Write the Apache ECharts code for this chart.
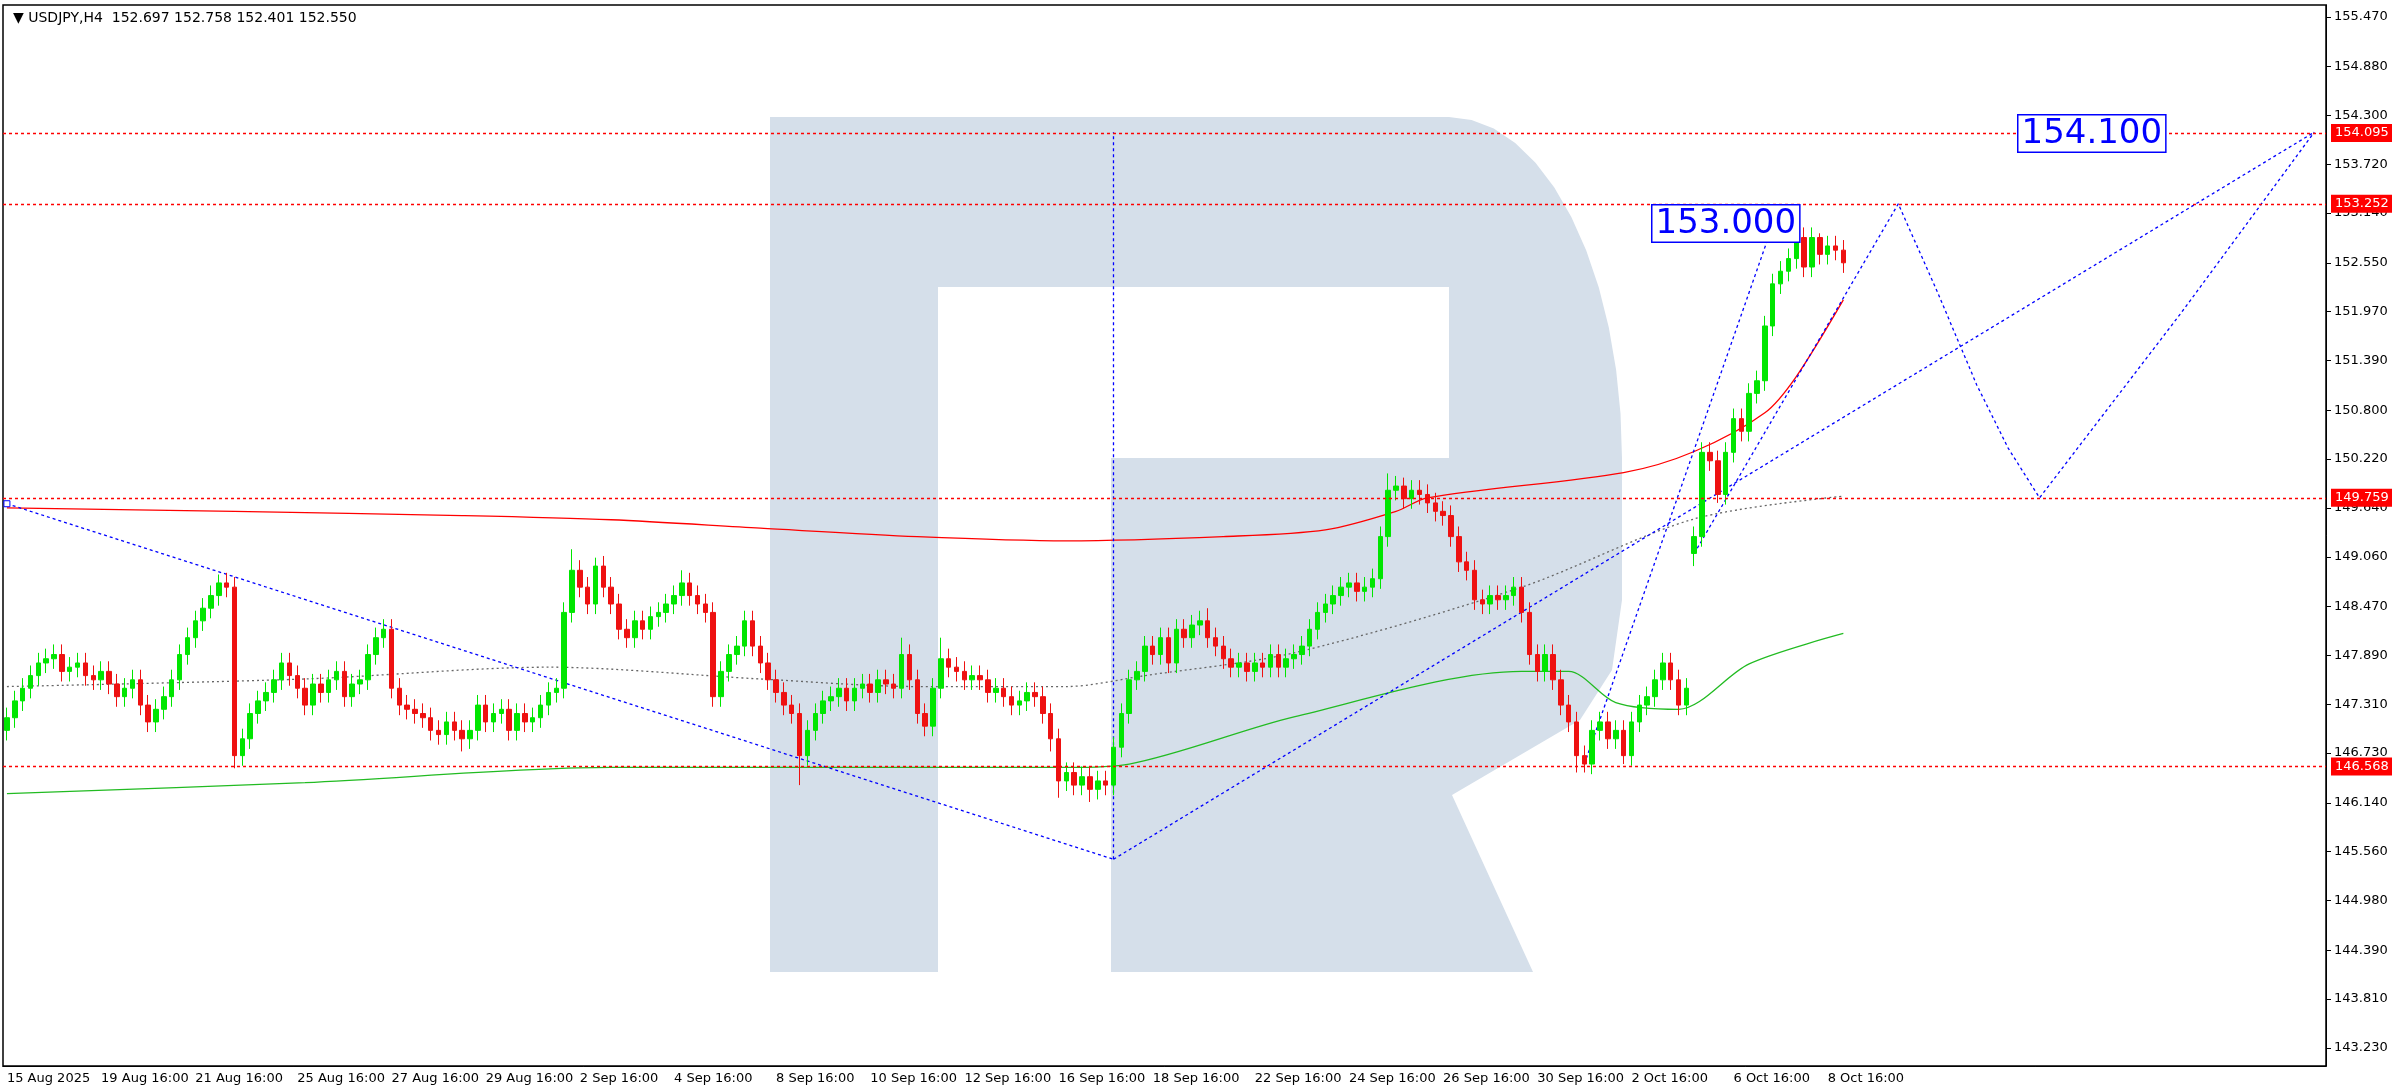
<!DOCTYPE html>
<html>
<head>
<meta charset="utf-8">
<script src="https://cdn.jsdelivr.net/npm/echarts@6/dist/echarts.min.js"></script>
<style>
html,body{margin:0;padding:0;background:#fff;}
#chart{width:2392px;height:1090px;}
</style>
</head>
<body>
<div id="chart"></div>
<script>
// H4 closes, bar 0 = 15 Aug 2025 00:00
var closes = [
 147.15,147.35,147.5,147.65,147.8,147.85,147.9,147.7,147.75,147.8,147.65,
 147.6,147.7,147.55,147.4,147.5,147.6,147.3,147.1,147.25,147.4,147.6,
 147.9,148.1,148.3,148.45,148.6,148.75,148.7,
 146.7,
 146.9,147.2,147.35,147.45,147.6,147.8,147.65,147.5,147.3,
 147.55,147.45,147.6,147.7,147.4,147.55,147.6,
 147.9,148.1,148.2,
 147.5,
 147.3,147.25,147.2,147.15,147.0,146.95,147.1,147.0,146.9,
 147.0,147.3,147.1,147.2,147.25,147.0,147.2,147.1,147.15,147.3,
 147.45,147.5,
 148.4,148.9,148.7,
 148.5,148.95,148.7,148.5,148.2,
 148.1,148.3,148.2,148.35,148.4,
 148.5,148.6,148.75,148.6,148.5,148.4,
 147.4,
 147.7,147.9,148.0,148.3,148.0,147.8,
 147.6,147.45,147.3,147.2,
 146.7,
 147.0,147.2,147.35,147.4,147.5,147.35,147.5,147.55,147.45,147.6,147.55,147.5,
 147.9,147.6,147.2,147.05,
 147.5,147.85,147.75,147.7,147.6,147.65,147.6,
 147.45,147.5,147.4,147.3,147.35,147.45,147.4,147.2,
 146.9,
 146.4,
 146.5,146.35,146.45,146.3,146.4,146.35,
 146.8,147.2,147.6,
 147.7,148.0,147.9,148.1,147.8,148.2,148.1,148.25,148.3,148.1,148.0,
 147.85,147.75,147.8,147.7,147.8,147.75,147.9,147.75,147.85,147.9,148.0,
 148.2,148.4,148.5,148.6,148.7,148.75,148.65,
 148.7,148.8,149.3,149.85,149.9,149.75,149.85,149.8,
 149.7,149.6,149.55,149.3,149.0,148.9,
 148.55,148.5,148.6,148.55,148.6,148.7,148.4,
 147.9,147.7,147.9,147.6,147.3,
 147.1,146.7,146.6,
 147.0,147.1,146.9,147.0,146.7,147.1,147.3,
 147.4,147.6,147.8,147.6,147.3,147.5,
 149.3,150.3,150.2,149.8,150.3,150.7,150.55,151.0,151.15,151.8,
 152.3,152.45,152.6,152.85,152.5,152.85,152.65,152.75,152.7,152.55
];
var firstOpen = 147.0;
var gapOpens = {215: 149.1};
var highSpikes = {27: 148.85, 72: 149.15, 75: 149.05, 86: 148.9, 114: 148.1, 119: 148.1, 153: 148.45, 176: 150.05, 178: 150.0, 228: 152.98, 231: 152.9};
var lowSpikes = {29: 146.55, 58: 146.75, 101: 146.35, 133: 146.75, 134: 146.2, 138: 146.15, 200: 146.5, 201: 146.5, 206: 146.6, 215: 148.95, 218: 149.7};

var redMA = [[0,149.64],[29,149.6],[58,149.55],[77,149.5],[96,149.4],[116,149.3],[135,149.25],[155,149.3],[168,149.38],[177,149.6],[181,149.76],[206,150.06],[215,150.31],[224,150.77],[228,151.2],[234,152.11]];
var greenMA = [[0,146.25],[38,146.38],[77,146.56],[135,146.56],[143,146.6],[164,147.16],[193,147.7],[199,147.7],[205,147.33],[213,147.25],[222,147.79],[234,148.15]];
var grayMA = [[0,147.52],[38,147.61],[69,147.75],[96,147.61],[116,147.52],[135,147.52],[145,147.65],[164,147.92],[193,148.7],[215,149.51],[234,149.78]];

var trendDown = [[0,149.69],[141,145.47]];
var trendUp = [[141,145.47],[294,154.1]];
var trendVert = [[141,145.47],[141,149.76],[141,154.1]];
var steepUp = [[201,146.6],[225,153.0]];
var zigzag = [[215,149.1],[241,153.25],[246,152.2],[251,151.1],[255,150.35],[259,149.76],[277,151.95],[294,154.1]];

var levels = [154.095, 153.252, 149.759, 146.568];
var lastPrice = 152.550;
var yTicks = [155.470,154.880,154.300,153.720,153.140,152.550,151.970,151.390,150.800,150.220,149.640,149.060,148.470,147.890,147.310,146.730,146.140,145.560,144.980,144.390,143.810,143.230];
var xTickIdx = [0,12,24,37,49,61,73,85,98,110,122,134,146,159,171,183,195,207,220,232];
var xTickText = ['15 Aug 2025','19 Aug 16:00','21 Aug 16:00','25 Aug 16:00','27 Aug 16:00','29 Aug 16:00','2 Sep 16:00','4 Sep 16:00','8 Sep 16:00','10 Sep 16:00','12 Sep 16:00','16 Sep 16:00','18 Sep 16:00','22 Sep 16:00','24 Sep 16:00','26 Sep 16:00','30 Sep 16:00','2 Oct 16:00','6 Oct 16:00','8 Oct 16:00'];
var nBars = 296;

var cats = [];
for (var i = 0; i < nBars; i++) cats.push(String(i));
var ohlc = [];
var prev = firstOpen;
closes.forEach(function (c, i) {
    var o = gapOpens[i] !== undefined ? gapOpens[i] : prev;
    var hi = highSpikes[i] !== undefined ? highSpikes[i] : Math.max(o, c) + 0.12;
    var lo = lowSpikes[i] !== undefined ? lowSpikes[i] : Math.min(o, c) - 0.12;
    ohlc.push([o, c, lo, hi]);
    prev = c;
});

var font = 'DejaVu Sans';
var myChart = echarts.init(document.getElementById('chart'));

function dashLine(data, color, type, sym, smooth) {
    return {
        type: 'line', data: data, symbol: sym || 'none', symbolSize: 6, smooth: smooth || false,
        itemStyle: {color: '#fff', borderColor: color, borderWidth: 1},
        lineStyle: {color: color, width: 1.3, type: type},
        animation: false, silent: true, z: 3
    };
}

var markLines = levels.map(function (v) {
    return {
        yAxis: v,
        label: {show: true, position: 'end', formatter: v.toFixed(3), backgroundColor: '#ff0000', color: '#fff', fontFamily: font, fontSize: 13, padding: [3, 4, 2, 4]}
    };
});
markLines.push({
    yAxis: lastPrice,
    lineStyle: {opacity: 0},
    label: {show: true, position: 'end', formatter: lastPrice.toFixed(3), backgroundColor: '#000', color: '#fff', fontFamily: font, fontSize: 13, padding: [3, 4, 2, 4]}
});

// logo watermark outline: stem, rounded bowl, leg
var logoPts = [[770,117],[1449,117]];
for (var a = 1; a <= 12; a++) {
    var t = a / 12 * Math.PI / 2;
    logoPts.push([1449 + 173 * Math.sin(t), 458 - 341 * Math.cos(t)]);
}
logoPts = logoPts.concat([[1622,600],[1612,670],[1580,720],[1452,795],[1533,972],[1111,972],[1111,458],[938,458],[938,972],[770,972]]);

var option = {
    backgroundColor: '#fff',
    animation: false,
    grid: {left: 3, right: 66, top: 5, bottom: 24, show: true, borderColor: '#000', borderWidth: 1.5},
    title: {
        text: '\u25BC USDJPY,H4  152.697 152.758 152.401 152.550',
        left: 8, top: 6,
        textStyle: {fontFamily: font, fontSize: 14, fontWeight: 'normal', color: '#000'}
    },
    graphic: [
        {
            type: 'polygon', z: -10, silent: true,
            shape: {points: logoPts},
            style: {fill: '#d5dfea'}
        },
        {
            type: 'rect', z: -9, silent: true,
            shape: {x: 938, y: 287, width: 511, height: 171},
            style: {fill: '#fff'}
        },
        {
            type: 'text', z: 10, left: 1651, top: 204,
            style: {text: '153.000', font: '34px ' + font, fill: '#0000ff', backgroundColor: '#fff', borderColor: '#0000ff', borderWidth: 1.5, padding: [2, 3, 0, 3]}
        },
        {
            type: 'text', z: 10, left: 2017, top: 114,
            style: {text: '154.100', font: '34px ' + font, fill: '#0000ff', backgroundColor: '#fff', borderColor: '#0000ff', borderWidth: 1.5, padding: [2, 3, 0, 3]}
        }
    ],
    xAxis: {
        type: 'category', data: cats, boundaryGap: true,
        axisLine: {lineStyle: {color: '#000'}},
        axisTick: {alignWithLabel: true, interval: function (idx) { return xTickIdx.indexOf(idx) >= 0; }, lineStyle: {color: '#000'}},
        axisLabel: {
            interval: function (idx) { return xTickIdx.indexOf(idx) >= 0; },
            formatter: function (v, idx) { var k = xTickIdx.indexOf(idx); return k >= 0 ? xTickText[k] : ''; },
            align: 'left', color: '#000', fontFamily: font, fontSize: 13, margin: 6
        },
        splitLine: {show: false}
    },
    yAxis: {
        type: 'value', position: 'right', min: 143.016, max: 155.61, scale: true,
        axisLine: {show: true, lineStyle: {color: '#000'}},
        axisTick: {show: true, customValues: yTicks, lineStyle: {color: '#000'}},
        axisLabel: {customValues: yTicks, formatter: function (v) { return v.toFixed(3); }, color: '#000', fontFamily: font, fontSize: 13},
        splitLine: {show: false}
    },
    series: [
        {
            type: 'candlestick', data: ohlc, barWidth: 5,
            itemStyle: {color: '#00e600', color0: '#ee1111', borderColor: '#00e600', borderColor0: '#ee1111', borderWidth: 1},
            markLine: {
                symbol: 'none', silent: true,
                lineStyle: {color: '#ff0000', type: [3, 3], width: 1.3},
                data: markLines
            },
            z: 4
        },
        dashLine(redMA, '#ff0000', 'solid', null, 0.3),
        dashLine(greenMA, '#22bb22', 'solid', null, 0.3),
        dashLine(grayMA, '#666666', [2, 3], null, 0.3),
        dashLine(trendDown, '#0000ff', [3, 3], 'rect'),
        dashLine(trendUp, '#0000ff', [3, 3], 'rect'),
        dashLine(trendVert, '#0000ff', [3, 3], 'rect'),
        dashLine(steepUp, '#0000ff', [3, 3], 'rect'),
        dashLine(zigzag, '#0000ff', [3, 3], 'rect')
    ]
};
myChart.setOption(option);
</script>
</body>
</html>
